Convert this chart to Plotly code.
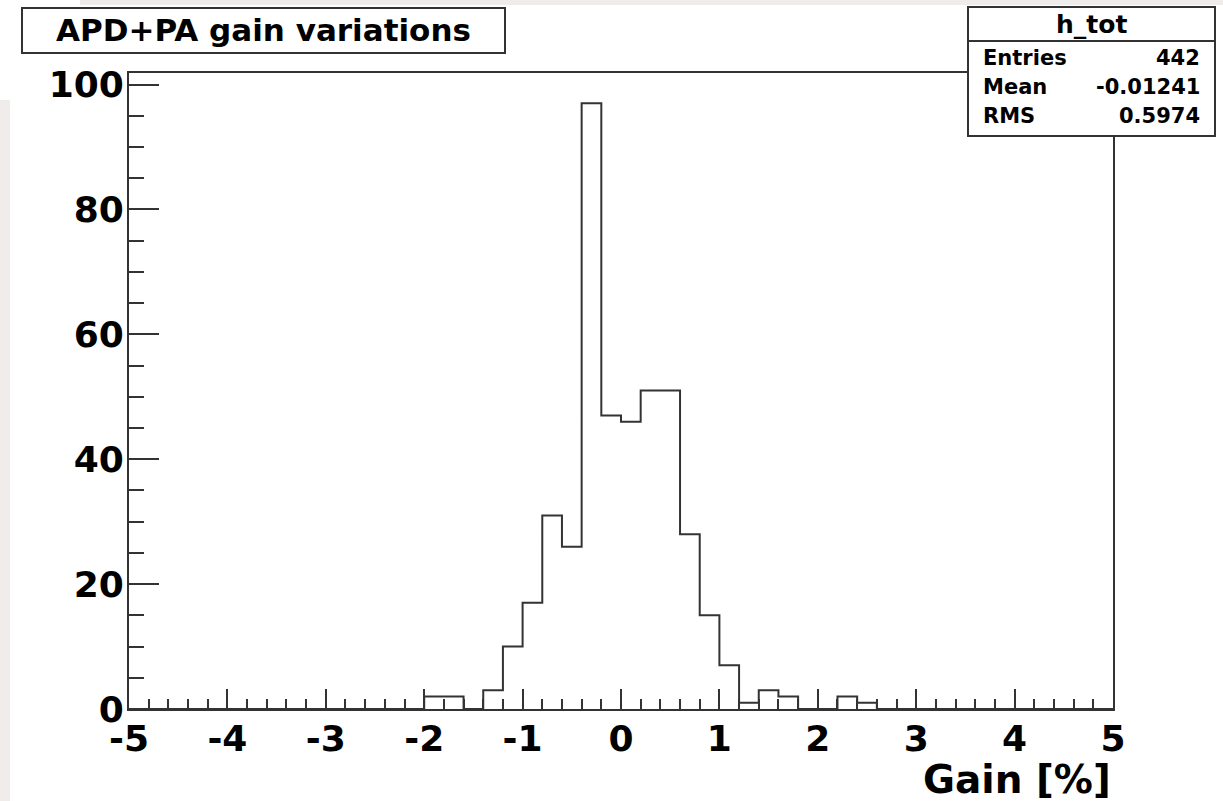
import plotly.graph_objects as go

# ---- data -------------------------------------------------------------
bin_low = -5.0
bin_width = 0.2
counts = [0, 0, 0, 0, 0, 0, 0, 0, 0, 0,
          0, 0, 0, 0, 0, 2, 2, 0, 3, 10,
          17, 31, 26, 97, 47, 46, 51, 51, 28, 15,
          7, 1, 3, 2, 0, 0, 2, 1, 0, 0,
          0, 0, 0, 0, 0, 0, 0, 0, 0, 0]
x_ticks = [-5, -4, -3, -2, -1, 0, 1, 2, 3, 4, 5]
y_ticks = [0, 20, 40, 60, 80, 100]
title_text = "APD+PA gain variations"
x_title = "Gain [%]"
stats_name = "h_tot"
stats_labels = ["Entries", "Mean", "RMS"]
stats_values = ["442", "-0.01241", "0.5974"]

# ---- geometry ----------------------------------------------------------
W, H = 1223, 801
ML, MR, MT, MB = 129, 110, 73, 92
PW, PH = W - ML - MR, H - MT - MB


def px(x):
    return (x - ML) / PW


def py(y):
    return (H - MB - y) / PH


edges = [bin_low + bin_width * i for i in range(len(counts) + 1)]
step_y = counts + [counts[-1]]

FONT = "DejaVu Sans"
LINE = "#333333"

fig = go.Figure()
fig.add_trace(go.Scatter(
    x=edges, y=step_y, mode="lines", line_shape="hv",
    line=dict(color=LINE, width=2), hoverinfo="skip", showlegend=False,
))

ymax = max(counts) * 1.05

fig.update_layout(
    width=W, height=H,
    margin=dict(l=ML, r=MR, t=MT, b=MB, pad=0),
    paper_bgcolor="white", plot_bgcolor="white",
    showlegend=False,
    xaxis=dict(
        range=[-5, 5], tickvals=x_ticks, ticktext=[str(v) for v in x_ticks],
        ticks="inside", ticklen=20, tickwidth=2, tickcolor=LINE,
        minor=dict(dtick=0.2, tick0=-5, ticks="inside", ticklen=10,
                   tickwidth=2, tickcolor=LINE),
        showline=True, linecolor=LINE, linewidth=2, mirror=True,
        showgrid=False, zeroline=False,
        tickfont=dict(family=FONT, size=36, color="black", weight="bold"),
        ticklabelstandoff=-3,
    ),
    yaxis=dict(
        range=[0, ymax], tickvals=y_ticks, ticktext=[str(v) for v in y_ticks],
        ticks="inside", ticklen=30, tickwidth=2, tickcolor=LINE,
        minor=dict(dtick=5, tick0=0, ticks="inside", ticklen=15,
                   tickwidth=2, tickcolor=LINE),
        showline=True, linecolor=LINE, linewidth=2, mirror=True,
        showgrid=False, zeroline=False,
        tickfont=dict(family=FONT, size=36, color="black", weight="bold"),
        ticklabelstandoff=-4,
    ),
)

shapes = []
# faint background strips at the image edges
shapes.append(dict(type="rect", xref="paper", yref="paper", layer="below",
                   x0=px(0), x1=px(10), y0=py(100), y1=py(801),
                   line=dict(width=0), fillcolor="#f1ecec"))
shapes.append(dict(type="rect", xref="paper", yref="paper", layer="below",
                   x0=px(80), x1=px(1223), y0=py(0), y1=py(5),
                   line=dict(width=0), fillcolor="#f1ecec"))
# title box
shapes.append(dict(type="rect", xref="paper", yref="paper", layer="above",
                   x0=px(22), x1=px(505), y0=py(53), y1=py(8),
                   line=dict(color=LINE, width=2), fillcolor="white"))
# stats box
shapes.append(dict(type="rect", xref="paper", yref="paper", layer="above",
                   x0=px(968), x1=px(1215), y0=py(136), y1=py(7),
                   line=dict(color=LINE, width=2), fillcolor="white"))
shapes.append(dict(type="line", xref="paper", yref="paper", layer="above",
                   x0=px(968), x1=px(1215), y0=py(41), y1=py(41),
                   line=dict(color=LINE, width=2)))
fig.update_layout(shapes=shapes)

ann = []
ann.append(dict(text=title_text, xref="paper", yref="paper",
                x=px(263), y=py(30), xanchor="center", yanchor="middle",
                showarrow=False,
                font=dict(family=FONT, size=31, color="black", weight="bold")))
ann.append(dict(text=stats_name, xref="paper", yref="paper",
                x=px(1091), y=py(24), xanchor="center", yanchor="middle",
                showarrow=False,
                font=dict(family=FONT, size=25, color="black", weight="bold")))
row_y = [58, 87, 116]
for lab, val, yy in zip(stats_labels, stats_values, row_y):
    ann.append(dict(text=lab, xref="paper", yref="paper",
                    x=px(981), y=py(yy), xanchor="left", yanchor="middle",
                    showarrow=False,
                    font=dict(family=FONT, size=21, color="black", weight="bold")))
    ann.append(dict(text=val, xref="paper", yref="paper",
                    x=px(1202), y=py(yy), xanchor="right", yanchor="middle",
                    showarrow=False,
                    font=dict(family=FONT, size=21, color="black", weight="bold")))
ann.append(dict(text=x_title, xref="paper", yref="paper",
                x=px(1113), y=py(779), xanchor="right", yanchor="middle",
                showarrow=False,
                font=dict(family=FONT, size=39, color="black", weight="bold")))
fig.update_layout(annotations=ann)

fig.write_html("out.html",
               config={"displayModeBar": False},
               post_script="document.body.style.margin='0px';"
                           "document.body.style.overflow='hidden';")
